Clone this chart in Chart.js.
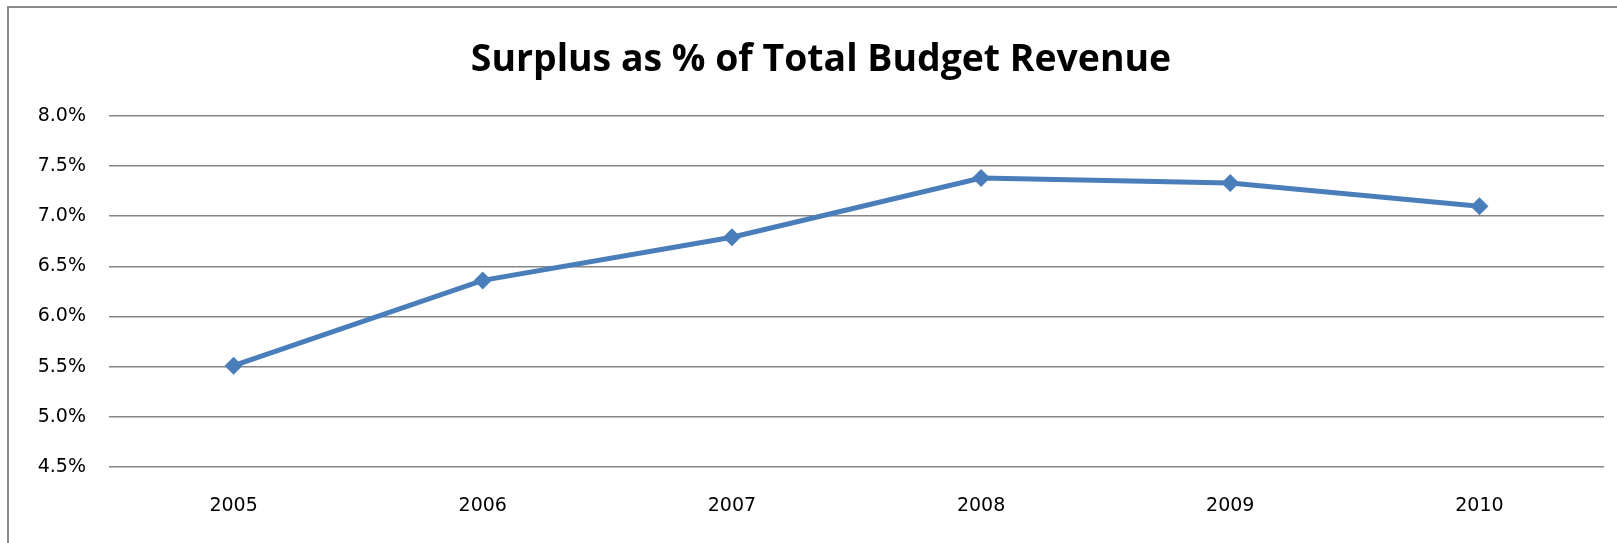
<!DOCTYPE html>
<html>
<head>
<meta charset="utf-8">
<script src="https://cdn.jsdelivr.net/npm/chart.js@4.4.1/dist/chart.umd.min.js"></script>
<style>
  html, body { margin: 0; padding: 0; background: #ffffff; }
  #wrap { position: relative; width: 1617px; height: 543px; }
</style>
</head>
<body>
<div id="wrap"><canvas id="chart" width="1617" height="543"></canvas></div>
<script>
// Surplus as a share of total budget revenue, by year
const years = ['2005', '2006', '2007', '2008', '2009', '2010'];
const surplusPct = [5.51, 6.36, 6.79, 7.38, 7.33, 7.10];
const yTicks = [4.5, 5.0, 5.5, 6.0, 6.5, 7.0, 7.5, 8.0];
const chartTitle = 'Surplus as % of Total Budget Revenue';

// Size the title font so the heading spans about 697px
const titleFamily = 'Open Sans';
const titleSize = (() => {
  const c = document.createElement('canvas').getContext('2d');
  c.font = 'bold 100px "' + titleFamily + '"';
  const w = c.measureText(chartTitle).width;
  return Math.round(100 * 700 / w * 10) / 10;
})();

// Thin grey frame along the left and top edges of the chart box
const framePlugin = {
  id: 'frame',
  beforeDraw(chart) {
    const ctx = chart.ctx;
    ctx.save();
    ctx.fillStyle = '#ffffff';
    ctx.fillRect(0, 0, chart.width, chart.height);
    ctx.strokeStyle = '#8c8c8c';
    ctx.lineWidth = 2;
    ctx.beginPath();
    ctx.moveTo(8, chart.height);
    ctx.lineTo(8, 7);
    ctx.lineTo(chart.width, 7);
    ctx.stroke();
    ctx.restore();
  }
};

new Chart(document.getElementById('chart'), {
  type: 'line',
  data: {
    labels: years,
    datasets: [{
      data: surplusPct,
      borderColor: '#4a7ebb',
      backgroundColor: '#4a7ebb',
      borderWidth: 5,
      pointStyle: 'rectRot',
      pointRadius: 9,
      pointHoverRadius: 9,
      pointBorderWidth: 0,
      tension: 0,
      fill: false
    }]
  },
  options: {
    responsive: false,
    animation: false,
    layout: { padding: { left: 38, right: 13, top: 0, bottom: 0 } },
    plugins: {
      legend: { display: false },
      tooltip: { enabled: false },
      title: {
        display: true,
        text: chartTitle,
        color: '#000000',
        font: { family: titleFamily, size: titleSize, weight: 'bold', lineHeight: 1.2 },
        padding: { top: 38, bottom: 33 }
      }
    },
    scales: {
      x: {
        offset: true,
        afterFit(scale) { scale.height = 76; },
        grid: { display: false, drawTicks: false },
        border: { display: false },
        ticks: {
          color: '#000000',
          padding: 28,
          maxRotation: 0,
          font: { family: 'DejaVu Sans', size: 19 }
        }
      },
      y: {
        min: 4.5,
        max: 8.0,
        afterFit(scale) { scale.width = 71; },
        afterBuildTicks(scale) { scale.ticks = yTicks.map(v => ({ value: v })); },
        grid: {
          color: '#868686',
          lineWidth: 1.5,
          drawTicks: false
        },
        border: { display: false },
        ticks: {
          color: '#000000',
          padding: 23,
          font: { family: 'DejaVu Sans', size: 19 },
          callback: v => v.toFixed(1) + '%'
        }
      }
    }
  },
  plugins: [framePlugin]
});
</script>
</body>
</html>
